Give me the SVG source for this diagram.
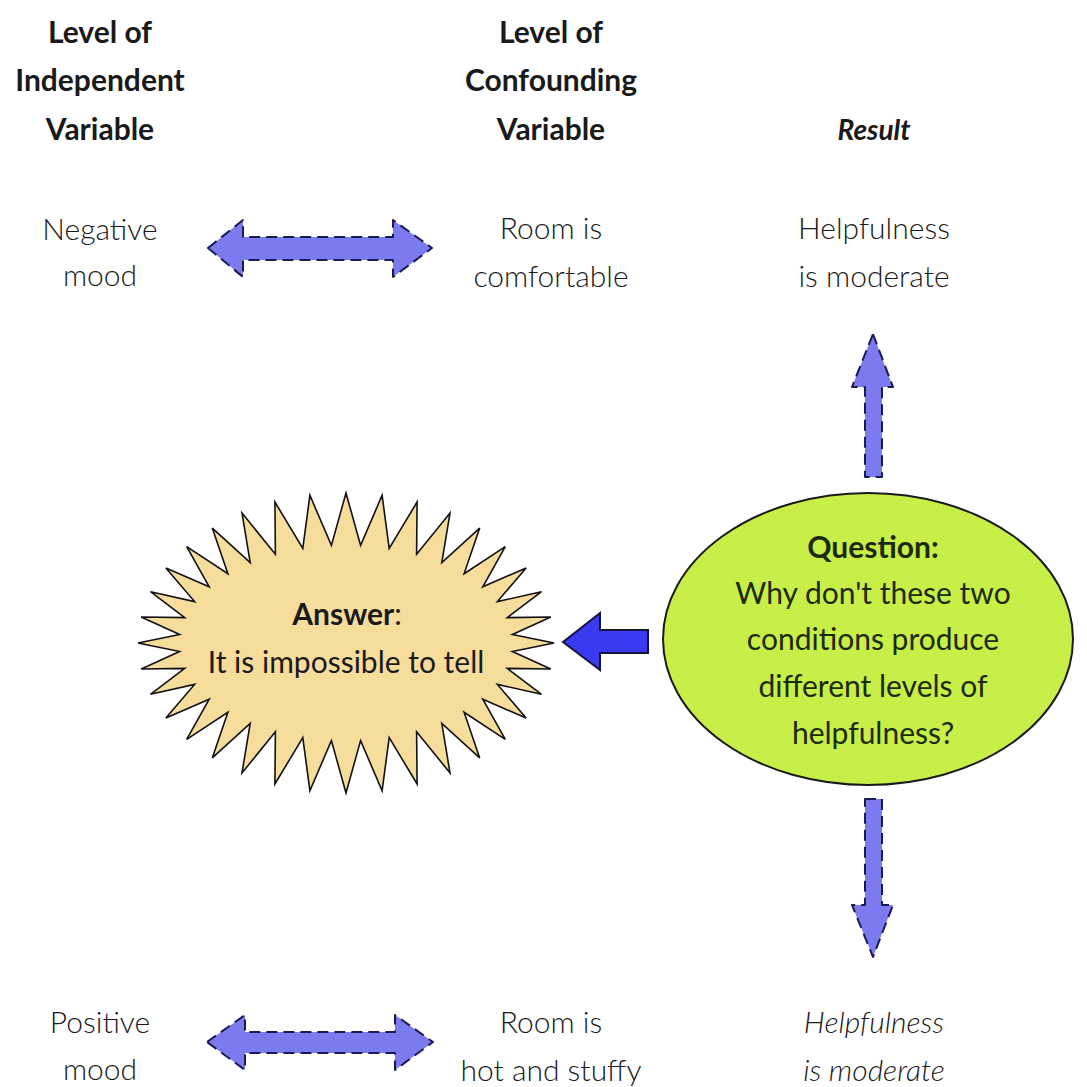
<svg xmlns="http://www.w3.org/2000/svg" width="1087" height="1087" viewBox="0 0 1087 1087">
<style>
text{font-family:Lato,"Open Sans","Liberation Sans",sans-serif;text-anchor:middle;fill:#1a1a1a}
.h{font-size:30px;font-weight:700}
.b{font-size:30px;font-weight:300}
.bi{font-size:30px;font-weight:300;font-style:italic}
.q{font-size:30px;font-weight:400;fill:#1c2a0c}
.dbl{fill:#7b7bef;stroke:#1a1a55;stroke-width:2;stroke-dasharray:11 6;stroke-linejoin:round}
</style>
<rect width="1087" height="1087" fill="#ffffff"/>
<g id="header-iv"><text class="h" x="100" y="43">Level of</text><text class="h" x="100" y="91">Independent</text><text class="h" x="100" y="140">Variable</text></g>
<g id="header-cv"><text class="h" x="551" y="43">Level of</text><text class="h" x="551" y="91">Confounding</text><text class="h" x="551" y="140">Variable</text></g>
<g id="header-result"><text class="h" x="874" y="140" style="font-style:italic;font-size:28px">Result</text></g>
<g id="neg-mood"><text class="b" x="100" y="240">Negative</text><text class="b" x="100" y="286">mood</text></g>
<g id="room-comfortable"><text class="b" x="551" y="239">Room is</text><text class="b" x="551" y="287">comfortable</text></g>
<g id="result-top"><text class="b" x="874" y="239">Helpfulness</text><text class="b" x="874" y="287">is moderate</text></g>
<g id="pos-mood"><text class="b" x="100" y="1033">Positive</text><text class="b" x="100" y="1080">mood</text></g>
<g id="room-hot"><text class="b" x="551" y="1033">Room is</text><text class="b" x="551" y="1081">hot and stuffy</text></g>
<g id="result-bottom"><text class="bi" x="874" y="1033">Helpfulness</text><text class="bi" x="874" y="1081">is moderate</text></g>
<g id="answer">
<polygon fill="#f7dd9c" stroke="#111" stroke-width="1.6" stroke-linejoin="miter" points="554,643 512.4,651.5 550.8,669 507.3,668.4 541.5,694.3 497.4,684.4 526.1,718 482.8,699.2 505.3,739.4 464.1,712.3 479.7,757.9 441.8,723.3 450,772.9 416.6,731.8 417.1,784 389.2,737.7 382.1,790.7 360.6,740.6 346,793 331.4,740.6 309.9,790.7 302.8,737.7 274.9,784 275.4,731.8 242,772.9 250.2,723.3 212.3,757.9 227.9,712.3 186.7,739.4 209.2,699.2 165.9,718 194.6,684.4 150.5,694.3 184.7,668.4 141.2,669 179.6,651.5 138,643 179.6,634.5 141.2,617 184.7,617.6 150.5,591.7 194.6,601.6 165.9,568 209.2,586.8 186.7,546.6 227.9,573.7 212.3,528.1 250.2,562.7 242,513.1 275.4,554.2 274.9,502 302.8,548.3 309.9,495.3 331.4,545.4 346,493 360.6,545.4 382.1,495.3 389.2,548.3 417.1,502 416.6,554.2 450,513.1 441.8,562.7 479.7,528.1 464.1,573.7 505.3,546.6 482.8,586.8 526.1,568 497.4,601.6 541.5,591.7 507.3,617.6 550.8,617 512.4,634.5"/>
<text x="347" y="625" style="font-size:30px"><tspan style="font-weight:700">Answer</tspan><tspan style="font-weight:400">:</tspan></text>
<text x="346" y="673" style="font-size:30px;font-weight:400">It is impossible to tell</text>
</g>
<g id="question">
<ellipse cx="868" cy="639" rx="205" ry="146" fill="#c8ee48" stroke="#1a1a1a" stroke-width="2"/>
<text class="q" x="873" y="558" style="font-weight:700">Question:</text>
<text class="q" x="873" y="604">Why don't these two</text>
<text class="q" x="873" y="650">conditions produce</text>
<text class="q" x="873" y="697">different levels of</text>
<text class="q" x="873" y="744">helpfulness?</text>
</g>
<g id="connectors">
<polygon class="dbl" points="208,248 243,220 243,237 393,237 393,220 432,248 393,277 393,260 243,260 243,277"/>
<polygon class="dbl" points="207,1042 245,1015 245,1032 395,1032 395,1015 433,1042 395,1070 395,1053 245,1053 245,1070"/>
<polygon class="dbl" points="873,334 893,387 882,387 882,477 865,477 865,387 852,387"/>
<polygon class="dbl" points="865,799 882,799 882,905 893,905 873,957 852,905 865,905"/>
<polygon fill="#3a3af0" stroke="#14143c" stroke-width="2" stroke-linejoin="miter" points="563,642 600,613 600,630 648,630 648,653 600,653 600,670"/>
</g>
</svg>
